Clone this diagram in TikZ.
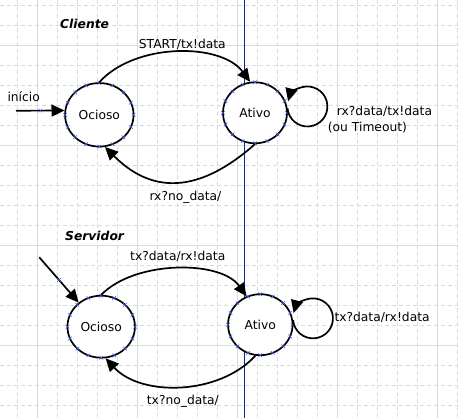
\documentclass[tikz,border=0pt]{standalone}
\usepackage{fontspec}
\setmainfont{DejaVu Sans}
\usetikzlibrary{arrows.meta,shapes.geometric,calc}
\definecolor{gridc}{HTML}{D6DDDB}
\definecolor{vblue}{HTML}{0A2A9A}
\definecolor{crossblue}{HTML}{3A5AE8}
\begin{document}
\begin{tikzpicture}[x=1pt,y=-1pt,
  gridminor/.style={draw=gridc, line width=0.8pt, dash pattern=on 4pt off 3pt},
  gridmajor/.style={draw=gridc, line width=1pt},
  state/.style={ellipse, draw=black, fill=white, line width=1.7pt, inner sep=0pt, font=\fontsize{12.3}{14}\selectfont},
  conn/.style={line width=1.7pt, -{Triangle[length=13pt,width=12pt]}},
  lbl/.style={anchor=base west, inner sep=0pt, font=\fontsize{12.3}{14}\selectfont},
  ttl/.style={anchor=base west, inner sep=0pt, font=\fontsize{12.3}{14}\selectfont\bfseries\itshape},
  xmk/.style={draw=crossblue, line width=0.5pt}]
\useasboundingbox (0,0) rectangle (458,418);
\fill[white] (0,0) rectangle (458,418);
% grid
\foreach \x in {17.5,37.5,...,457.5} \draw[gridminor] (\x,0) -- (\x,418);
\foreach \y in {5,25,...,405} \draw[gridminor] (0,\y) -- (458,\y);
\foreach \x in {37.5,137.5,...,437.5} \draw[gridmajor] (\x,0) -- (\x,418);
\foreach \y in {45,145,245,345} \draw[gridmajor] (0,\y) -- (458,\y);
% vertical blue guide
\draw[draw=vblue, line width=1.2pt] (244.8,0) -- (244.8,418);
% states
\node[state, minimum width=68.5pt, minimum height=63.5pt] (o1) at (99.3,114.8) {Ocioso};
\node[state, minimum width=64pt, minimum height=61pt] (a1) at (255,112.8) {Ativo};
\node[state, minimum width=67.5pt, minimum height=62pt] (o2) at (101.2,326.7) {Ocioso};
\node[state, minimum width=64.5pt, minimum height=61pt] (a2) at (260.3,324.7) {Ativo};
% connection points
\foreach \n/\rx/\ry in {o1/34.25/31.75, a1/32/30.5, o2/33.75/31, a2/32.25/30.5}
  \foreach \a in {0,22.5,...,337.5} {
    \coordinate (p) at ($(\n.center)+(\a:\rx pt and \ry pt)$);
    \draw[xmk] (p) +(-1.8,-1.8) -- +(1.8,1.8) (p) +(-1.8,1.8) -- +(1.8,-1.8);
  }
% initial arrows
\coordinate (s1) at (16,110.7);
\coordinate (s2) at (39.3,257.3);
\draw[conn] (s1) -- (o1.173) coordinate[pos=0.5] (m1);
\draw[conn] (s2) -- (o2.133) coordinate[pos=0.5] (m2);
\foreach \p in {m1,m2}
  \draw[xmk] (\p) +(-1.8,-1.8) -- +(1.8,1.8) (\p) +(-1.8,1.8) -- +(1.8,-1.8);
% transitions
\draw[conn] (o1.north) .. controls (135,42.5) and (221,42.5) .. (a1.99);
\draw[conn] (a1.south) .. controls (185,206) and (140,182) .. (o1.-80);
\draw[conn] (o2.north) .. controls (135,260) and (221,260) .. (a2.116);
\draw[conn] (a2.-99) .. controls (218.7,395.6) and (141,396.7) .. (o2.-82);
\draw[conn] (a1.8) arc[start angle=175, end angle=-165, radius=20];
\draw[conn] (a2.8) arc[start angle=175, end angle=-165, radius=20];
% labels
\node[ttl] (tc) at (60,28.3) {Cliente};
\node[lbl] (l1) at (138.7,48.3) {START/tx!data};
\node[lbl] (l2) at (149.3,200.5) {rx?no\_data/};
\node[lbl] (l3) at (336.7,115) {rx?data/tx!data};
\node[lbl] (l4) at (327.7,131.3) {(ou Timeout)};
\node[lbl] (l5) at (7.3,101.7) {início};
\node[ttl] (ts) at (65,240.7) {Servidor};
\node[lbl] (l6) at (130,260.7) {tx?data/rx!data};
\node[lbl] (l7) at (146.7,404.3) {tx?no\_data/};
\node[lbl] (l8) at (334.3,321.7) {tx?data/rx!data};
\end{tikzpicture}
\end{document}
